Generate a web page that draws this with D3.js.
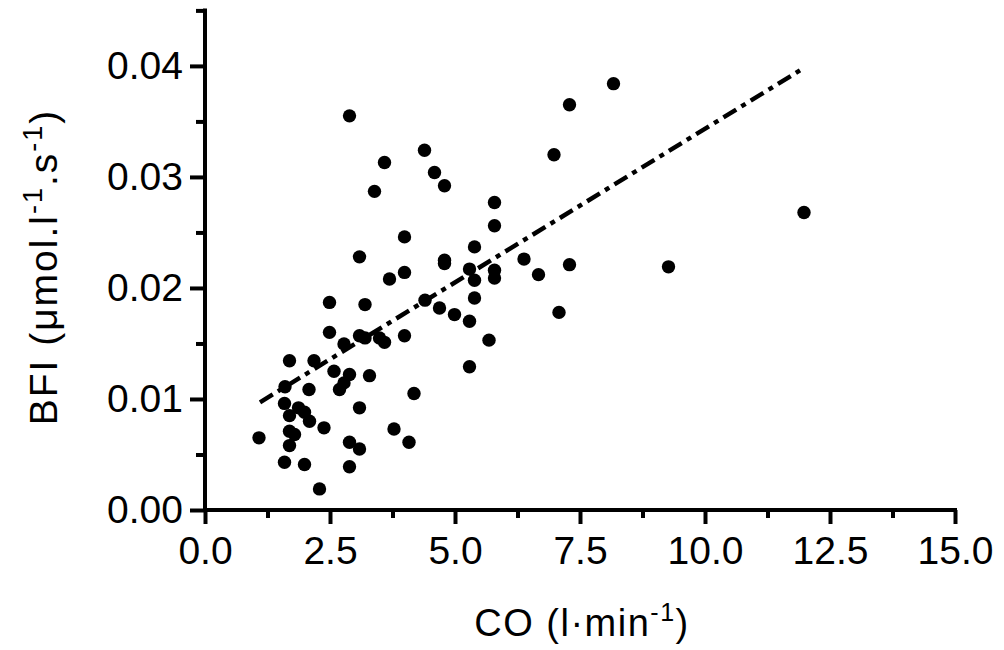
<!DOCTYPE html>
<html><head><meta charset="utf-8">
<script src="https://cdn.jsdelivr.net/npm/d3@7"></script>
<style>body{margin:0;background:#fff;} text{font-family:Arial,"Liberation Sans",sans-serif;fill:#000;}</style>
</head><body>
<svg id="c" width="1004" height="650"></svg>
<script>
const coValues = [1.08,1.6,1.59,1.69,1.69,1.69,1.79,1.69,1.59,1.99,2.29,1.87,1.99,2.09,2.08,2.18,2.38,2.49,2.49,2.58,2.78,2.69,2.78,2.89,2.89,2.89,3.09,3.09,3.09,3.2,3.2,3.29,3.49,3.59,3.69,3.78,3.99,4.08,4.18,4.69,4.99,5.29,5.29,5.39,5.39,5.68,4.4,2.89,3.59,3.39,4.39,4.59,4.79,3.99,3.09,3.99,4.79,4.79,5.39,5.29,5.79,5.79,8.17,7.29,6.98,11.98,6.38,7.29,9.27,6.67,5.79,5.79,7.08];
const bfiValues = [0.0065,0.0111,0.0096,0.01345,0.0085,0.0071,0.0068,0.0058,0.0043,0.0041,0.0019,0.0092,0.0088,0.0080,0.01085,0.01345,0.0074,0.0187,0.0160,0.0125,0.01495,0.01085,0.01145,0.0122,0.0061,0.0039,0.0092,0.0055,0.0157,0.0185,0.0155,0.0121,0.0155,0.0151,0.0208,0.0073,0.0157,0.0061,0.0105,0.0182,0.0176,0.0170,0.0129,0.0191,0.0207,0.0153,0.0189,0.0355,0.0313,0.0287,0.0324,0.0304,0.0292,0.0246,0.0228,0.0214,0.0225,0.0222,0.0237,0.0217,0.0277,0.0256,0.0384,0.0365,0.0320,0.0268,0.0226,0.0221,0.0219,0.0212,0.0216,0.0209,0.0178];
const fitX = [1.1, 11.9];
const fitY = [0.0097, 0.0396];
const xMajorTicks = [0,2.5,5,7.5,10,12.5,15];
const xMinorTicks = [1.25,3.75,6.25,8.75,11.25,13.75];
const yMajorTicks = [0,0.01,0.02,0.03,0.04];
const yMinorTicks = [0.005,0.015,0.025,0.035,0.045];

const svg = d3.select("#c");
const x = d3.scaleLinear().domain([0,15]).range([205,955]);
const y = d3.scaleLinear().domain([0,0.045]).range([510,10.4]);

// points
svg.append("g").selectAll("circle").data(coValues.map((v,i)=>[v,bfiValues[i]])).join("circle")
  .attr("cx",d=>x(d[0])).attr("cy",d=>y(d[1])).attr("r",6.7).attr("fill","#000");

// fit line
svg.append("path").datum(fitX.map((v,i)=>[v,fitY[i]]))
  .attr("d", d3.line().x(d=>x(d[0])).y(d=>y(d[1])))
  .attr("stroke","#000").attr("stroke-width",4.5).attr("fill","none")
  .attr("stroke-dasharray","15,6,5,6");

// axes
const xAxisMajor = d3.axisBottom(x).tickValues(xMajorTicks).tickSize(14).tickPadding(12).tickFormat(d3.format(".1f"));
const gx = svg.append("g").attr("transform","translate(0,510)").call(xAxisMajor);
const gxm = svg.append("g").attr("transform","translate(0,510)").call(d3.axisBottom(x).tickValues(xMinorTicks).tickSize(8).tickFormat(""));
const gy = svg.append("g").attr("transform","translate(205,0)").call(d3.axisLeft(y).tickValues(yMajorTicks).tickSize(15).tickPadding(7).tickFormat(d3.format(".2f")));
const gym = svg.append("g").attr("transform","translate(205,0)").call(d3.axisLeft(y).tickValues(yMinorTicks).tickSize(9).tickFormat(""));
[gx,gxm,gy,gym].forEach(g=>{
  g.select(".domain").remove();
  g.selectAll("line").attr("stroke","#000").attr("stroke-width",4);
  g.selectAll("text").style("font-size","39px").attr("fill","#000").style("font-family","Arial, 'Liberation Sans', sans-serif");
});
gx.selectAll("text").attr("dy","0.71em");
// axis lines
svg.append("line").attr("x1",x(0)-2).attr("x2",x(15)+2).attr("y1",y(0)).attr("y2",y(0)).attr("stroke","#000").attr("stroke-width",4);
svg.append("line").attr("x1",x(0)).attr("x2",x(0)).attr("y1",y(0.045)-2).attr("y2",y(0)+2).attr("stroke","#000").attr("stroke-width",4);

// titles
const xt = svg.append("text").attr("x",582).attr("y",636).attr("text-anchor","middle").style("font-size","38px").style("letter-spacing","1.5px");
xt.append("tspan").text("CO (l·min");
xt.append("tspan").attr("dy",-15).style("font-size","25px").text("-1");
xt.append("tspan").attr("dy",15).text(")");

const yt = svg.append("text").attr("transform","translate(57,267) rotate(-90)").attr("text-anchor","middle").style("font-size","39px").style("letter-spacing","2px");
yt.append("tspan").text("BFI (μmol.l");
yt.append("tspan").attr("dy",-15).style("font-size","27px").text("-1");
yt.append("tspan").attr("dy",15).text(".s");
yt.append("tspan").attr("dy",-15).style("font-size","27px").text("-1");
yt.append("tspan").attr("dy",15).text(")");
</script>
</body></html>
